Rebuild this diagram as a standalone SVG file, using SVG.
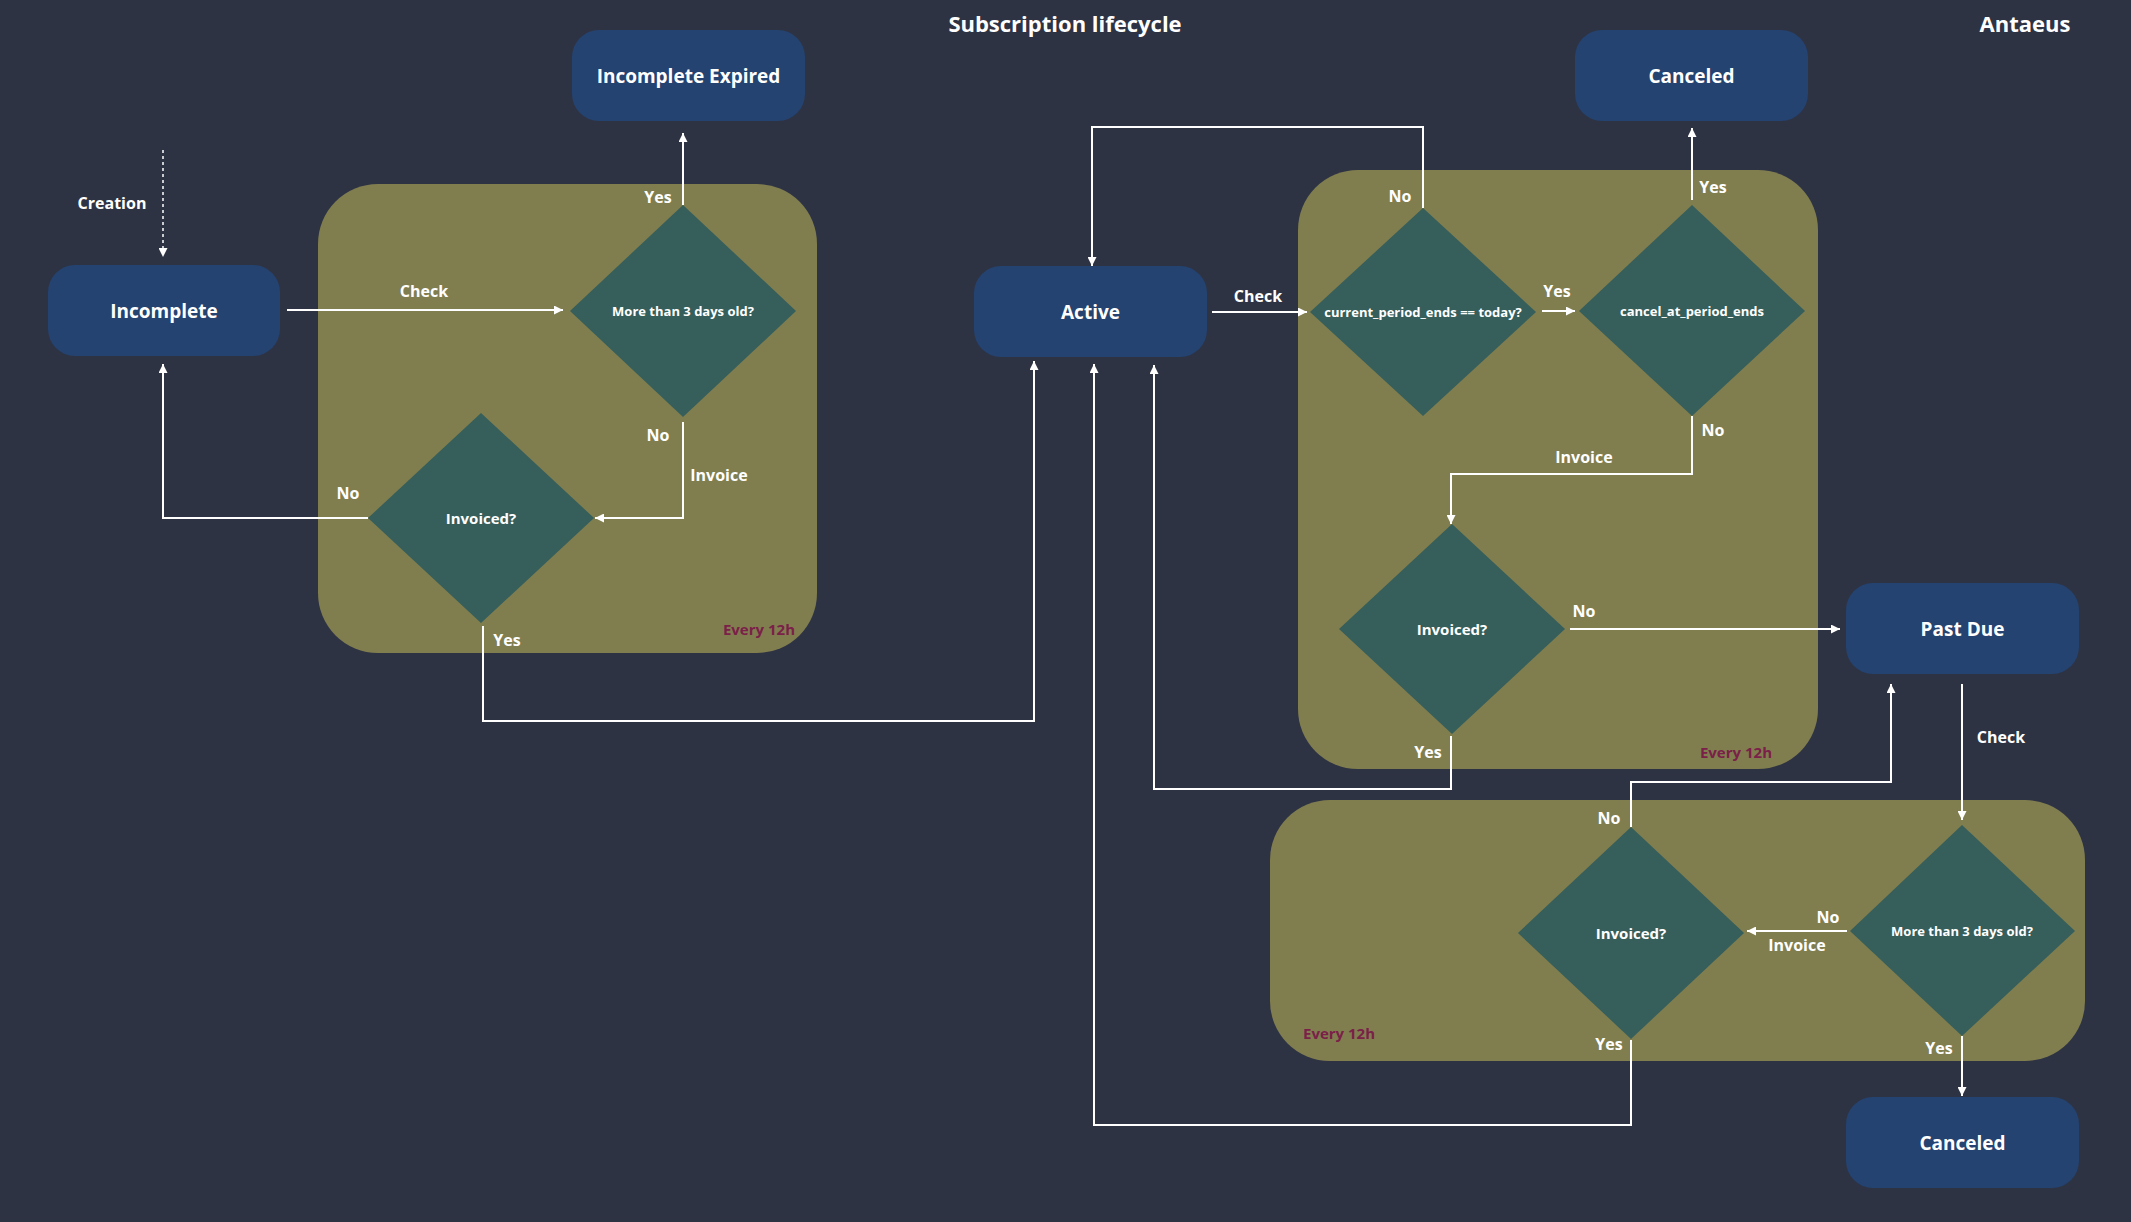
<svg xmlns="http://www.w3.org/2000/svg" width="2131" height="1222" viewBox="0 0 2131 1222">
<style>
.bg{fill:#2e3344}
.state rect{fill:#244370}
.loop{fill:#807e4f}
.dec polygon{fill:#365e5b}
text{font-family:"Open Sans","Liberation Sans",sans-serif;font-weight:700;fill:#ffffff;text-anchor:middle;dominant-baseline:central}
.st{font-size:19px}
.dt{font-size:13px}
.di{font-size:15px}
.lb{font-size:16px}
.ev{font-size:15px;fill:#7b2048}
.hd{font-size:22px}
.conn path{fill:none;stroke:#ffffff;stroke-width:2}
.conn path.dash{stroke-width:1.5;stroke-dasharray:3 3}
</style>
<defs>
<marker id="ah" viewBox="0 0 10 10" refX="10" refY="5" markerWidth="10" markerHeight="9" markerUnits="userSpaceOnUse" orient="auto">
<path d="M0,0 L10,5 L0,10 z" fill="#ffffff"/>
</marker>
</defs>
<rect class="bg" x="0" y="0" width="2131" height="1222"/>
<text class="hd" x="1065" y="23">Subscription lifecycle</text>
<text class="hd" x="2025" y="23">Antaeus</text>

<g id="loop1"><rect class="loop" x="318" y="184" width="499" height="469" rx="60" ry="60"/><text class="ev" x="795" y="629" style="text-anchor:end">Every 12h</text></g>
<g id="loop2"><rect class="loop" x="1298" y="170" width="520" height="599" rx="60" ry="60"/><text class="ev" x="1772" y="752" style="text-anchor:end">Every 12h</text></g>
<g id="loop3"><rect class="loop" x="1270" y="800" width="815" height="261" rx="60" ry="60"/><text class="ev" x="1303" y="1033" style="text-anchor:start">Every 12h</text></g>

<g id="incomplete-expired" class="state"><rect x="572" y="30" width="233" height="91" rx="27" ry="27"/><text class="st" x="688.5" y="75.5">Incomplete Expired</text></g>
<g id="canceled-top" class="state"><rect x="1575" y="30" width="233" height="91" rx="27" ry="27"/><text class="st" x="1691.5" y="75.5">Canceled</text></g>
<g id="incomplete" class="state"><rect x="48" y="265" width="232" height="91" rx="27" ry="27"/><text class="st" x="164" y="310.5">Incomplete</text></g>
<g id="active" class="state"><rect x="974" y="266" width="233" height="91" rx="27" ry="27"/><text class="st" x="1090.5" y="311.5">Active</text></g>
<g id="past-due" class="state"><rect x="1846" y="583" width="233" height="91" rx="27" ry="27"/><text class="st" x="1962.5" y="628.5">Past Due</text></g>
<g id="canceled-bottom" class="state"><rect x="1846" y="1097" width="233" height="91" rx="27" ry="27"/><text class="st" x="1962.5" y="1142.5">Canceled</text></g>

<g id="d-more-3days-1" class="dec"><polygon points="683,205 796,311 683,417 570,311"/><text class="dt" x="683" y="311">More than 3 days old?</text></g>
<g id="d-invoiced-1" class="dec"><polygon points="481,413 594,518 481,623 368,518"/><text class="di" x="481" y="518">Invoiced?</text></g>
<g id="d-period-ends" class="dec"><polygon points="1423,208 1536,312 1423,416 1310,312"/><text class="dt" x="1423" y="312">current_period_ends == today?</text></g>
<g id="d-cancel-at" class="dec"><polygon points="1692,205 1805,311 1692,416 1579,311"/><text class="dt" x="1692" y="311">cancel_at_period_ends</text></g>
<g id="d-invoiced-2" class="dec"><polygon points="1452,524 1565,629 1452,734 1339,629"/><text class="di" x="1452" y="629">Invoiced?</text></g>
<g id="d-invoiced-3" class="dec"><polygon points="1631,827 1744,933 1631,1039 1518,933"/><text class="di" x="1631" y="933">Invoiced?</text></g>
<g id="d-more-3days-2" class="dec"><polygon points="1962,825 2075,931 1962,1036 1850,931"/><text class="dt" x="1962" y="931">More than 3 days old?</text></g>

<g id="connectors" class="conn">
<path class="dash" d="M163,150 L163,257" marker-end="url(#ah)"/>
<path d="M287,310 L563,310" marker-end="url(#ah)"/>
<path d="M683,205 L683,133" marker-end="url(#ah)"/>
<path d="M683,422 L683,518 L595,518" marker-end="url(#ah)"/>
<path d="M368,518 L163,518 L163,364" marker-end="url(#ah)"/>
<path d="M483,626 L483,721 L1034,721 L1034,361" marker-end="url(#ah)"/>
<path d="M1423,208 L1423,127 L1092,127 L1092,266" marker-end="url(#ah)"/>
<path d="M1212,312 L1307,312" marker-end="url(#ah)"/>
<path d="M1542,311 L1575,311" marker-end="url(#ah)"/>
<path d="M1692,200 L1692,128" marker-end="url(#ah)"/>
<path d="M1692,416 L1692,474 L1451,474 L1451,524" marker-end="url(#ah)"/>
<path d="M1570,629 L1840,629" marker-end="url(#ah)"/>
<path d="M1451,736 L1451,789 L1154,789 L1154,365" marker-end="url(#ah)"/>
<path d="M1962,684 L1962,820" marker-end="url(#ah)"/>
<path d="M1631,827 L1631,782 L1891,782 L1891,684" marker-end="url(#ah)"/>
<path d="M1847,931 L1747,931" marker-end="url(#ah)"/>
<path d="M1962,1036 L1962,1096" marker-end="url(#ah)"/>
<path d="M1631,1040 L1631,1125 L1094,1125 L1094,364" marker-end="url(#ah)"/>
</g>

<g id="labels">
<text class="lb" x="112" y="203">Creation</text>
<text class="lb" x="424" y="291">Check</text>
<text class="lb" x="658" y="197">Yes</text>
<text class="lb" x="658" y="435">No</text>
<text class="lb" x="719" y="475">Invoice</text>
<text class="lb" x="348" y="493">No</text>
<text class="lb" x="507" y="640">Yes</text>
<text class="lb" x="1400" y="196">No</text>
<text class="lb" x="1258" y="296">Check</text>
<text class="lb" x="1557" y="291">Yes</text>
<text class="lb" x="1713" y="187">Yes</text>
<text class="lb" x="1713" y="430">No</text>
<text class="lb" x="1584" y="457">Invoice</text>
<text class="lb" x="1584" y="611">No</text>
<text class="lb" x="1428" y="752">Yes</text>
<text class="lb" x="2001" y="737">Check</text>
<text class="lb" x="1609" y="818">No</text>
<text class="lb" x="1828" y="917">No</text>
<text class="lb" x="1797" y="945">Invoice</text>
<text class="lb" x="1939" y="1048">Yes</text>
<text class="lb" x="1609" y="1044">Yes</text>
</g>
</svg>
